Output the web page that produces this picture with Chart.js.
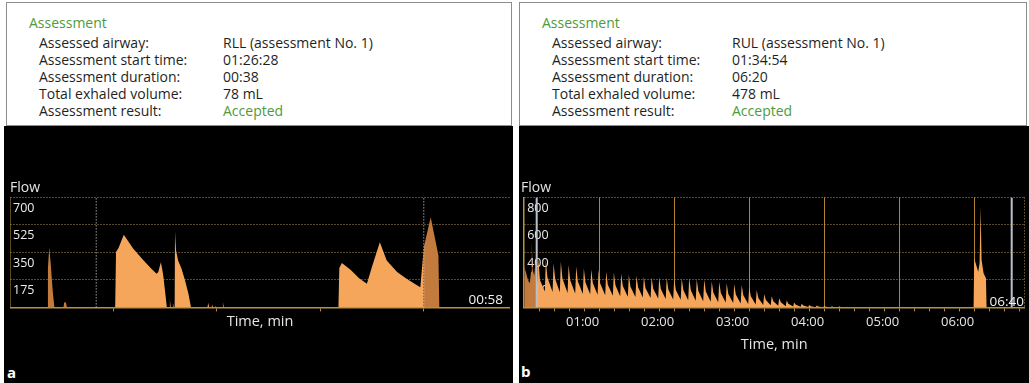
<!DOCTYPE html>
<html>
<head>
<meta charset="utf-8">
<script src="https://cdn.jsdelivr.net/npm/chart.js@4.4.1/dist/chart.umd.min.js"></script>
<style>
  html, body { margin: 0; padding: 0; background: #fff; }
  body { width: 1029px; height: 383px; position: relative; overflow: hidden; font-family: "Open Sans", sans-serif; }
  .head { position: absolute; background: #fff; border: 1px solid #8c8c8c; box-sizing: border-box; }
  .black { position: absolute; background: #000; }
  .t { position: absolute; white-space: nowrap; font-size: 14px; line-height: 17px; color: #1f1f1f; }
  .g { color: #4f9a3c; }
  .box { position: absolute; }
  .end { position: absolute; color: #f2f2f2; font-size: 13.5px; line-height: 16px; text-align: right; width: 70px; }
  .panel { position: absolute; color: #fff; font-weight: bold; font-size: 15px; line-height: 18px; }
</style>
</head>
<body>
  <div class="head" style="left:6px;top:2px;width:506px;height:124px"></div>
  <div class="head" style="left:519px;top:2px;width:508px;height:124px"></div>
  <div class="black" style="left:4px;top:126px;width:509px;height:257px"></div>
  <div class="black" style="left:519px;top:126px;width:510px;height:257px"></div>

  <div class="t g" style="left:29px;top:14px">Assessment</div>
  <div class="t" style="left:39px;top:34px">Assessed airway:</div>
  <div class="t" style="left:39px;top:51px">Assessment start time:</div>
  <div class="t" style="left:39px;top:68px">Assessment duration:</div>
  <div class="t" style="left:39px;top:85px">Total exhaled volume:</div>
  <div class="t" style="left:39px;top:102px">Assessment result:</div>
  <div class="t" style="left:223px;top:34px">RLL (assessment No. 1)</div>
  <div class="t" style="left:223px;top:51px">01:26:28</div>
  <div class="t" style="left:223px;top:68px">00:38</div>
  <div class="t" style="left:223px;top:85px">78 mL</div>
  <div class="t g" style="left:223px;top:102px">Accepted</div>

  <div class="t g" style="left:542px;top:14px">Assessment</div>
  <div class="t" style="left:552px;top:34px">Assessed airway:</div>
  <div class="t" style="left:552px;top:51px">Assessment start time:</div>
  <div class="t" style="left:552px;top:68px">Assessment duration:</div>
  <div class="t" style="left:552px;top:85px">Total exhaled volume:</div>
  <div class="t" style="left:552px;top:102px">Assessment result:</div>
  <div class="t" style="left:732px;top:34px">RUL (assessment No. 1)</div>
  <div class="t" style="left:732px;top:51px">01:34:54</div>
  <div class="t" style="left:732px;top:68px">06:20</div>
  <div class="t" style="left:732px;top:85px">478 mL</div>
  <div class="t g" style="left:732px;top:102px">Accepted</div>

  <div class="box" style="left:10px;top:179.6px;width:500px;height:150.1px"><canvas id="flowA"></canvas></div>
  <div class="box" style="left:520.8px;top:179.6px;width:506.4px;height:173.1px"><canvas id="flowB"></canvas></div>

  <div class="end" style="left:433px;top:291px">00:58</div>
  <div class="end" style="left:954px;top:293px">06:40</div>
  <div class="panel" style="left:7px;top:363px">a</div>
  <div class="panel" style="left:521px;top:362px">b</div>

<script>
(function(){
  // panel a: flow trace (s, mL/s)
  var flowTimesA = [0, 4.3, 4.4, 4.55, 4.72, 4.95, 5.15, 6.2, 6.3, 6.5, 6.6, 10,
    12.2, 12.3, 12.6, 13.2, 14.3, 15.5, 16.4, 17.0, 17.2, 17.5, 17.7, 17.8, 18.2,
    18.5, 18.55, 18.65, 18.85, 18.9, 19.0,
    19.1, 19.14, 19.26, 19.5, 19.9, 20.3, 20.7, 21.0,
    22.9, 23.0, 23.1, 23.4, 23.45, 23.55, 23.8, 23.85, 23.95, 24.6, 24.7, 24.8,
    38.1, 38.2, 38.5, 39.5, 40.5, 41.4, 42.0, 42.9, 43.7, 44.9, 46.0, 47.4, 47.6, 47.8, 48,
    48.8, 49.3, 49.7, 49.8, 58];
  var flowValuesA = [0, 0, 250, 383, 280, 108, 0, 0, 34, 30, 0, 0,
    0, 352, 380, 462, 373, 299, 246, 214, 225, 288, 230, 193, 0,
    0, 49, 0, 0, 30, 0,
    0, 485, 363, 299, 246, 172, 87, 0,
    0, 30, 0, 0, 18, 0, 0, 12, 0, 0, 34, 0,
    0, 250, 282, 240, 185, 151, 260, 415, 299, 225, 182, 134, 128, 256, 383,
    574, 439, 331, 0, 0];
  var markersA = [10, 48];
  var yTicksA = [0, 175, 350, 525, 700];
  var xTicksA = [0, 12, 24, 36, 48, 58];

  // panel b: flow trace (s, mL/s)
  var flowTimesB = [0, 1.5, 3, 4.5, 5.5, 6.1, 6.7, 8, 9, 10,
    10.5, 11.3, 12.6, 16.5, 17.3, 18.6, 22.7, 23.5, 24.8, 28.5, 29.3, 30.6,
    34.7, 35.5, 36.8, 40.8, 41.6, 42.9, 46.9, 47.7, 49.0, 52.8, 53.6, 54.9,
    58.7, 59.5, 60.8, 64.8, 65.6, 66.9, 70.9, 71.7, 73.0, 76.8, 77.6, 78.9,
    82.9, 83.7, 85.0, 89.0, 89.8, 91.1, 94.9, 95.7, 97.0, 101.1, 101.9, 103.2,
    107.2, 108, 109.3, 113.2, 114, 115.3, 119.2, 120, 121.3, 125.2, 126, 127.3,
    131.2, 132, 133.3, 137.2, 138, 139.3, 143.2, 144, 145.3, 149.2, 150, 151.3,
    155.2, 156, 157.3, 161.2, 162, 163.3, 167.2, 168, 169.3, 173.2, 174, 175.3,
    179.2, 180, 181.3, 185.2, 186, 187.3, 191.2, 192, 193.3, 197.2, 198, 199.3,
    203.2, 204, 205.3, 209.2, 210, 211.3, 215.2, 216, 217.3, 221.2, 222, 223.3,
    227.2, 228, 229.3, 233.2, 234, 235.3, 239.2, 240, 241.3, 245.2, 246, 247.3,
    251.2, 252, 253.3, 257.2, 258, 259.3,
    359.5, 360, 361.6, 363.2, 364.3, 365.1, 365.9, 367.5, 369.4, 369.9, 390, 400];
  var flowValuesB = [300, 250, 200, 175, 260, 480, 280, 230, 330, 230,
    180, 360, 200, 115, 345, 218, 112, 321, 206, 110, 333, 210,
    105, 309, 197, 102, 297, 190, 98, 285, 182, 95, 278, 177,
    92, 273, 173, 88, 260, 165, 85, 253, 161, 82, 245, 155,
    78, 238, 150, 75, 232, 146, 72, 225, 141, 68, 220, 136,
    65, 219, 134, 62, 216, 131, 58, 212, 127, 55, 212, 126,
    52, 215, 125, 48, 205, 119, 45, 203, 116, 42, 188, 108,
    38, 186, 105, 35, 175, 98, 32, 170, 94, 28, 163, 89,
    25, 150, 81, 22, 127, 69, 18, 98, 54, 15, 82, 45,
    12, 67, 37, 9, 50, 27, 7, 36, 20, 5, 26, 14,
    3, 18, 9, 2, 14, 6, 1, 11, 4, 0, 9, 3,
    0, 8, 2, 0, 5, 0,
    0, 358, 309, 260, 321, 733, 345, 249, 212, 0, 0, 0];
  var markersB = [10, 390];
  var yTicksB = [0, 200, 400, 600, 800];
  var xTicksB = [0, 12, 24, 36, 48, 60, 72, 84, 96, 108, 120, 132, 144, 156, 168, 180, 192,
    204, 216, 228, 240, 252, 264, 276, 288, 300, 312, 324, 336, 348, 360, 372, 384, 396, 400];
  var minuteLabelsB = ['01:00', '02:00', '03:00', '04:00', '05:00', '06:00'];

  var FONT = '"Open Sans", sans-serif';
  var GOLD = '#b8913f', DOT = 'rgba(196,160,92,0.9)', MINUTE = 'rgb(176,132,52)';
  var LIGHT = '#f5a65b', DARK = '#c27a3d';
  Chart.defaults.font.family = FONT;

  // split the trace into the part inside the assessment window and the part outside
  function pick(ts, vs, keep){
    var out = [], skipped = false;
    for (var i = 0; i < ts.length; i++) {
      if (!keep(ts[i])) { skipped = true; continue; }
      if (skipped && out.length) out.push({x: ts[i] - 0.001, y: null});
      skipped = false;
      out.push({x: ts[i], y: vs[i]});
    }
    return out;
  }

  function markerLine(t, top, style){
    return { data: [{x: t, y: 0}, {x: t, y: top}], borderColor: style.color, borderWidth: style.width,
      borderDash: style.dash, pointRadius: 0, fill: false, order: 0 };
  }

  function make(id, o){
    var lo = o.markers[0], hi = o.markers[1];
    var inside = pick(o.times, o.values, function(t){ return t >= lo && t <= hi; });
    var outside = pick(o.times, o.values, function(t){ return t <= lo || t >= hi; });
    var xMax = o.xTicks[o.xTicks.length - 1];
    var yMax = o.yTicks[o.yTicks.length - 1];
    function ticksFrom(list){ return function(s){ s.ticks = list.map(function(v){ return {value: v}; }); }; }
    function minute(v){ return o.minuteLines && v > 0 && v < xMax && v % 60 === 0; }

    return new Chart(document.getElementById(id).getContext('2d'), {
      type: 'line',
      data: { datasets: [
        markerLine(lo, yMax, o.marker),
        markerLine(hi, yMax, o.marker),
        { data: inside, backgroundColor: LIGHT, borderColor: 'transparent', borderWidth: 0, pointRadius: 0, fill: 'origin', order: 1 },
        { data: outside, backgroundColor: DARK, borderColor: 'transparent', borderWidth: 0, pointRadius: 0, fill: 'origin', order: 1 }
      ]},
      options: {
        responsive: true, maintainAspectRatio: false, animation: false, events: [],
        layout: { padding: 0, autoPadding: false },
        plugins: {
          legend: { display: false }, tooltip: { enabled: false },
          title: { display: true, text: 'Flow', align: 'start', color: '#e4e4e4',
            font: { size: 14, weight: 'normal' }, padding: { top: 0, bottom: 0.6 } }
        },
        scales: {
          x: {
            type: 'linear', min: 0, max: xMax,
            afterBuildTicks: ticksFrom(o.xTicks),
            afterFit: function(s){ s.height = o.axisH; },
            grid: {
              lineWidth: 1, tickLength: 4,
              color: function(c){
                var v = c.tick ? c.tick.value : 0;
                if (o.minuteLines && v === xMax) return DOT;
                return minute(v) ? MINUTE : 'rgba(0,0,0,0)';
              },
              tickColor: function(c){ var v = c.tick ? c.tick.value : 0; return (v > 0 && v < xMax) ? GOLD : 'rgba(0,0,0,0)'; }
            },
            border: { color: GOLD, width: 1.5,
              dash: function(c){ return (c.tick && c.tick.value === xMax) ? [1, 2] : []; } },
            ticks: {
              display: o.minuteLines, autoSkip: false, maxRotation: 0, align: 'end', padding: 3.2,
              color: '#e6e6e6', font: { size: 13 },
              callback: function(v){ return minute(v) ? minuteLabelsB[v / 60 - 1] : ''; }
            },
            title: { display: true, text: 'Time, min', color: '#e6e6e6', font: { size: 14.5 }, padding: { top: 0, bottom: 0 } }
          },
          y: {
            min: 0, max: yMax,
            afterBuildTicks: ticksFrom(o.yTicks),
            afterFit: function(s){ s.width = 0; },
            grid: { drawTicks: false, color: function(c){ return (c.tick && c.tick.value > 0) ? DOT : GOLD; } },
            border: { color: GOLD, width: 1.5,
              dash: function(c){ return (c.tick && c.tick.value > 0) ? [1, 2] : []; } },
            ticks: { display: false }
          },
          yLab: {
            position: 'left', min: 0, max: yMax, z: 1,
            afterBuildTicks: ticksFrom(o.yTicks),
            afterFit: function(s){ s.width = 0; },
            grid: { display: false, drawTicks: false },
            border: { display: false },
            ticks: {
              mirror: true, padding: 3, labelOffset: 11, color: '#ececec', font: { size: 12.5 },
              callback: function(v){ return v === 0 ? '' : String(v); }
            }
          }
        }
      }
    });
  }

  function init(){
    make('flowA', { times: flowTimesA, values: flowValuesA, markers: markersA, yTicks: yTicksA, xTicks: xTicksA,
      axisH: 22.7, minuteLines: false, marker: { color: '#ececec', width: 1, dash: [1, 2] } });
    make('flowB', { times: flowTimesB, values: flowValuesB, markers: markersB, yTicks: yTicksB, xTicks: xTicksB,
      axisH: 45.7, minuteLines: true, marker: { color: '#b9c0cc', width: 2, dash: [] } });
  }
  if (document.readyState === 'loading') document.addEventListener('DOMContentLoaded', init); else init();
})();
</script>
</body>
</html>
